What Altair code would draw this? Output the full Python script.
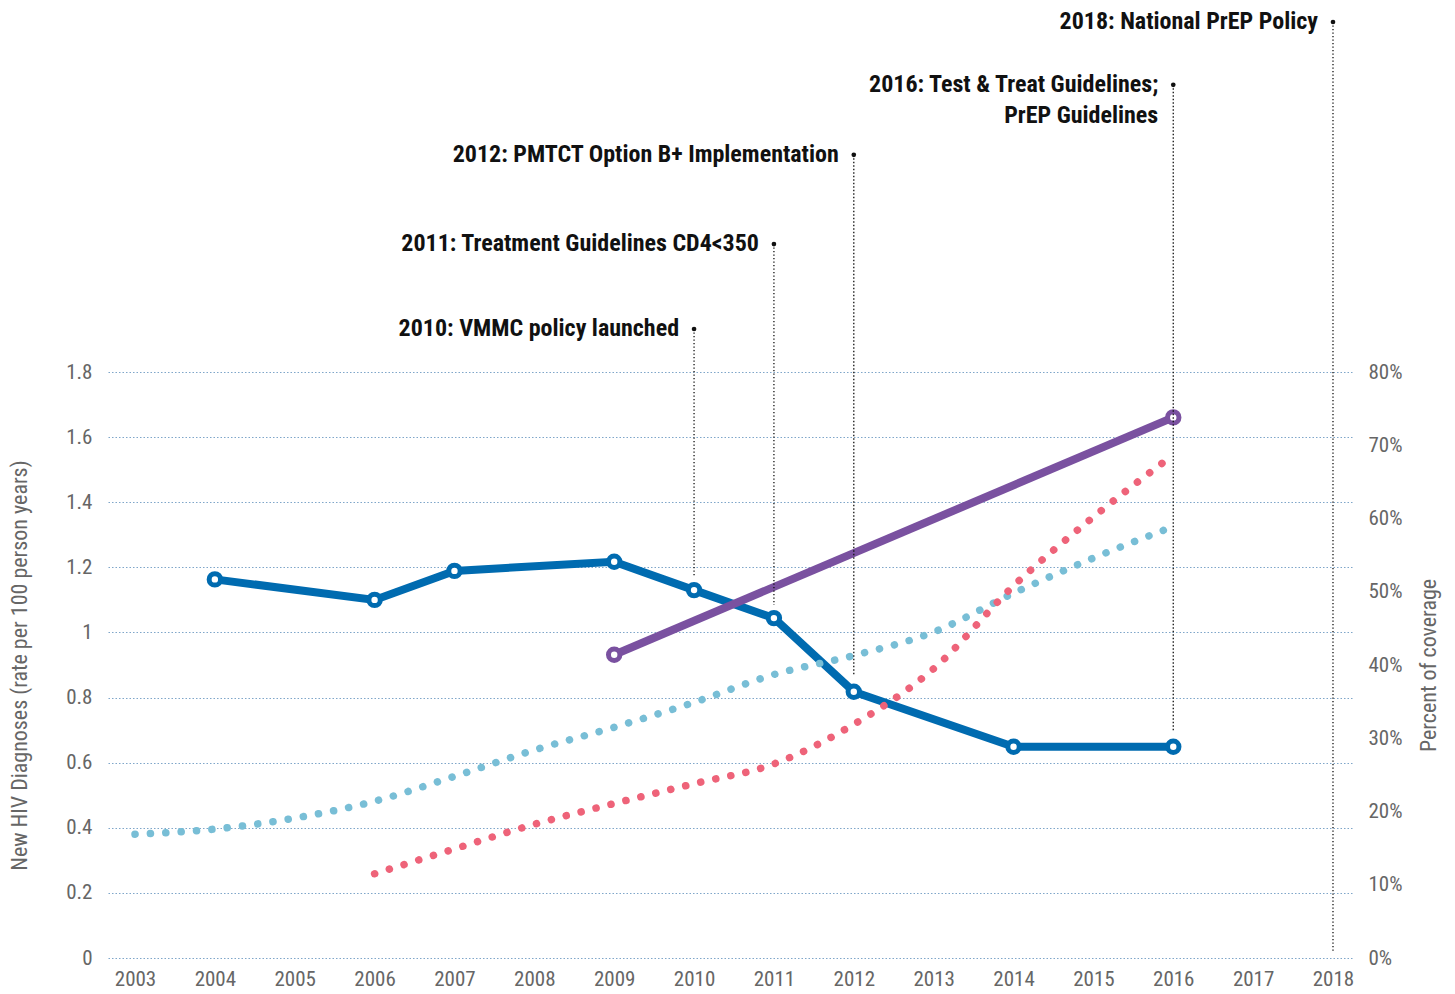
import altair as alt
import pandas as pd

FONT = "Liberation Sans Narrow, Roboto Condensed, DejaVu Sans Condensed, sans-serif"

# Blue: new HIV diagnoses (left axis)
hiv_years = [2004, 2006, 2007, 2009, 2010, 2011, 2012, 2014, 2016]
hiv_rate = [1.163, 1.100, 1.189, 1.217, 1.130, 1.044, 0.818, 0.649, 0.649]

# Purple coverage (right axis)
purple_years = [2009, 2016]
purple_cov = [0.414, 0.738]

# Teal dotted coverage (right axis)
teal_years = [2003, 2004, 2005, 2006, 2007, 2008, 2009, 2010, 2011, 2012, 2013, 2014, 2015, 2016]
teal_cov = [0.169, 0.176, 0.191, 0.214, 0.248, 0.284, 0.315, 0.349, 0.387, 0.413, 0.445, 0.498, 0.546, 0.589]

# Red dotted coverage (right axis)
red_years = [2006, 2007, 2008, 2009, 2010, 2011, 2012, 2013, 2014, 2015, 2016]
red_cov = [0.115, 0.149, 0.1825, 0.211, 0.238, 0.265, 0.319, 0.395, 0.508, 0.602, 0.687]

# Policy events
event_years = [2010, 2011, 2012, 2016, 2018]
event_labels = ["2010: VMMC policy launched", "2011: Treatment Guidelines CD4<350",
                "2012: PMTCT Option B+ Implementation", "2016: Test & Treat Guidelines;",
                "2018: National PrEP Policy"]
event_top = [1.932, 2.193, 2.467, 2.682, 2.875]
event_bottom = [1.176, 1.084, 0.869, 0.694, 0.015]
extra_label_years = [2016]
extra_labels = ["PrEP Guidelines"]
extra_label_y = [2.587]

left_ticks = [0, 0.2, 0.4, 0.6, 0.8, 1.0, 1.2, 1.4, 1.6, 1.8]
right_ticks = [0, 0.1, 0.2, 0.3, 0.4, 0.5, 0.6, 0.7, 0.8]
x_ticks = list(range(2003, 2019))

BLUE = "#006bb0"
PURPLE = "#7a51a0"
TEAL = "#78bed6"
RED = "#ee6379"
GRID = "#7fa6c9"
GRAYTXT = "#666666"

hiv_df = pd.DataFrame({"year": hiv_years, "v": hiv_rate})
pur_df = pd.DataFrame({"year": purple_years, "v": purple_cov})
teal_df = pd.DataFrame({"year": teal_years, "v": teal_cov})
red_df = pd.DataFrame({"year": red_years, "v": red_cov})
ev_df = pd.DataFrame({"year": event_years, "label": event_labels, "top": event_top, "bottom": event_bottom})
ex_df = pd.DataFrame({"year": extra_label_years, "label": extra_labels, "top": extra_label_y})

xscale = alt.Scale(domain=[2002.662, 2018.238], nice=False, zero=False)
lscale = alt.Scale(domain=[0, 1.8], nice=False, zero=True)
rscale = alt.Scale(domain=[0, 0.8], nice=False, zero=True)

X = alt.X("year:Q", scale=xscale, title=None,
          axis=alt.Axis(values=x_ticks, format="d", grid=False, ticks=False, domain=False,
                        labelFontSize=21, labelColor=GRAYTXT, labelFont=FONT, labelPadding=10,
                        labelFlush=False, labelOverlap=False))

left_axis = alt.Axis(values=left_ticks, format="~g", orient="left", grid=True, gridColor=GRID,
                     gridDash=[1.5, 2], gridWidth=1.2, gridOpacity=1, ticks=False, domain=False,
                     labelFontSize=21, labelColor=GRAYTXT, labelFont=FONT, labelPadding=16,
                     title="New HIV Diagnoses (rate per 100 person years)", titleFont=FONT,
                     titleFontSize=22, titleFontWeight="normal", titleColor=GRAYTXT, titlePadding=34)
right_axis = alt.Axis(values=right_ticks, format=".0%", orient="right", grid=False, ticks=False,
                      domain=False, labelFontSize=21, labelColor=GRAYTXT, labelFont=FONT,
                      labelPadding=16, title="Percent  of coverage", titleFont=FONT, titleFontSize=22,
                      titleFontWeight="normal", titleColor=GRAYTXT, titlePadding=16, titleAngle=270,
                      titleBaseline="top")

teal = alt.Chart(teal_df).mark_line(color=TEAL, strokeWidth=7.5, strokeCap="round",
                                    strokeDash=[0.1, 15.3], interpolate="monotone").encode(
    x=X, y=alt.Y("v:Q", scale=rscale, axis=right_axis))
red = alt.Chart(red_df).mark_line(color=RED, strokeWidth=7.5, strokeCap="round",
                                  strokeDash=[0.1, 15.3], interpolate="monotone").encode(
    x=X, y=alt.Y("v:Q", scale=rscale, axis=None))

blue_line = alt.Chart(hiv_df).mark_line(color=BLUE, strokeWidth=8).encode(
    x=X, y=alt.Y("v:Q", scale=lscale, axis=left_axis))
blue_pts = alt.Chart(hiv_df).mark_point(filled=True, fill="white", stroke=BLUE, strokeWidth=5,
                                        size=130, opacity=1).encode(
    x=X, y=alt.Y("v:Q", scale=lscale, axis=None))

pur_line = alt.Chart(pur_df).mark_line(color=PURPLE, strokeWidth=8).encode(
    x=X, y=alt.Y("v:Q", scale=rscale, axis=None))
pur_pts = alt.Chart(pur_df).mark_point(filled=True, fill="white", stroke=PURPLE, strokeWidth=5,
                                       size=130, opacity=1).encode(
    x=X, y=alt.Y("v:Q", scale=rscale, axis=None))

ev_rules = alt.Chart(ev_df).mark_rule(color="#111111", strokeWidth=1.3, strokeDash=[1.3, 2.2]).encode(
    x=X, y=alt.Y("top:Q", scale=lscale, axis=None), y2="bottom:Q")
ev_dots = alt.Chart(ev_df).mark_point(filled=True, color="#111111", size=22, opacity=1).encode(
    x=X, y=alt.Y("top:Q", scale=lscale, axis=None))
ev_text = alt.Chart(ev_df).mark_text(align="right", baseline="middle", dx=-15, font=FONT,
                                     fontSize=24, fontWeight="bold", color="#111111").encode(
    x=X, y=alt.Y("top:Q", scale=lscale, axis=None), text="label:N")
ex_text = alt.Chart(ex_df).mark_text(align="right", baseline="middle", dx=-15, font=FONT,
                                     fontSize=24, fontWeight="bold", color="#111111").encode(
    x=X, y=alt.Y("top:Q", scale=lscale, axis=None), text="label:N")

chart = alt.layer(blue_line, teal, red, blue_pts, pur_line, pur_pts, ev_rules, ev_dots, ev_text, ex_text
                  ).resolve_scale(y="independent").properties(
    width=1244, height=586, padding={"left": 0, "top": 2, "right": 2, "bottom": 2}
).configure_view(stroke=None)

chart.save("out.html", embed_options={"renderer": "svg", "actions": False})
